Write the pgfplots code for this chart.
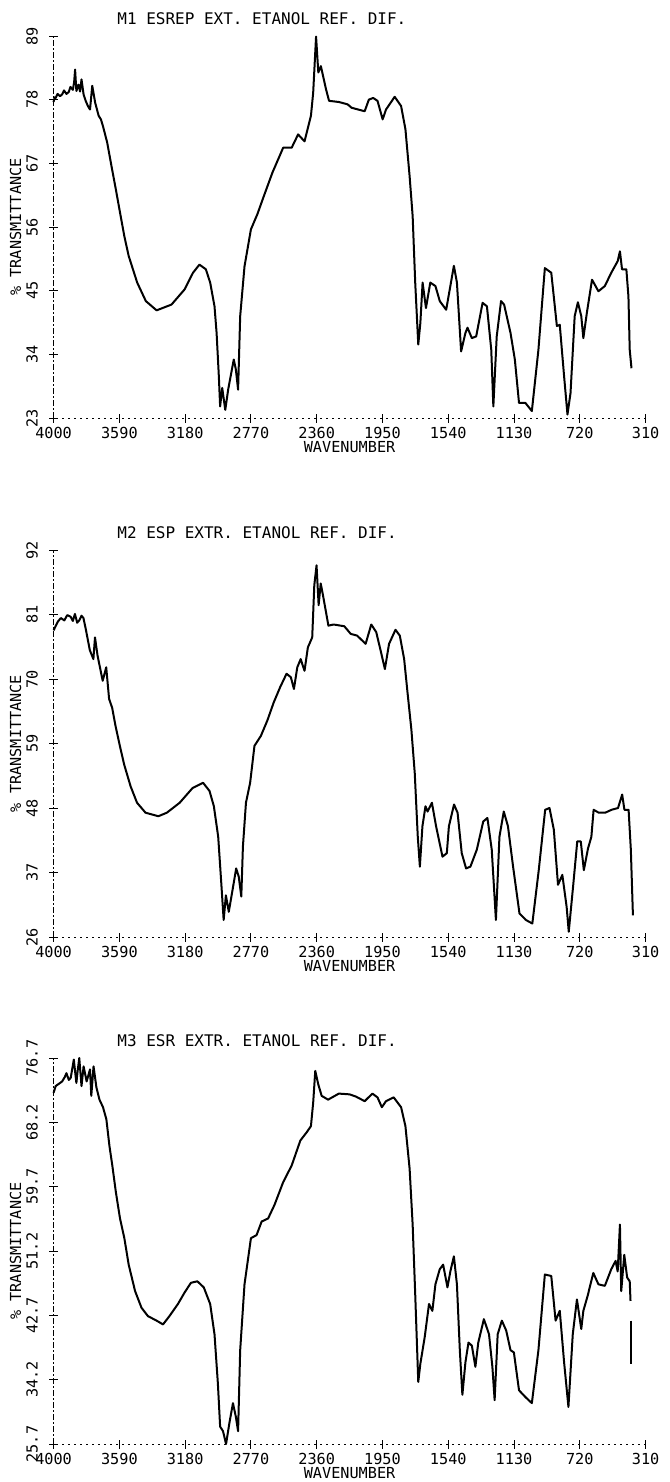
\documentclass[border=0pt]{standalone}
\usepackage{pgfplots}
\pgfplotsset{compat=1.18}
\usepackage{fontspec}
\setmainfont{DejaVu Sans Mono}

\pgfplotsset{
  ir/.style={
    scale only axis, width=296pt,
    xmin=310, xmax=4000, x dir=reverse,
    axis x line*=bottom, axis y line*=left,
    clip=false,
    xtick={4000,3590,3180,2770,2360,1950,1540,1130,720,310},
    xticklabels={4000,3590,3180,2770,2360,1950,1540,1130,720,310},
    tick align=center, major tick length=4.5pt,
    every tick/.style={black, line width=0.5pt},
    x axis line style={-, black, line width=0.5pt, dash pattern=on 0.6pt off 2.4pt},
    y axis line style={-, black, line width=0.5pt, dash pattern=on 3pt off 1.2pt on 0.6pt off 1.2pt},
    /pgf/number format/assume math mode=true,
    tick label style={font=\fontsize{7.6}{8}\selectfont},
    xticklabel style={anchor=center, yshift=-5pt},
    yticklabel style={rotate=90, anchor=center, yshift=8.5pt},
    label style={font=\fontsize{7.6}{8}\selectfont},
    xlabel={WAVENUMBER},
    xlabel style={at={(axis description cs:0.5,0)}, anchor=center, yshift=-14.5pt},
    ylabel={\% TRANSMITTANCE},
    ylabel style={at={(axis description cs:0,0.5)}, anchor=center, yshift=19pt},
    every axis title shift=0pt,
    title style={font=\fontsize{8}{9}\selectfont, at={(axis description cs:0,1)},
      anchor=west, inner sep=0pt, xshift=31.7pt, yshift=8.5pt},
  },
  spec/.style={black, line width=1pt, line join=round, mark=none},
}

\begin{document}
\begin{tikzpicture}
\useasboundingbox (0,0) rectangle (334.5pt,-741pt);

% M1
\begin{axis}[ir, at={(26.8pt,-209pt)}, anchor=south west, height=191pt,
  ymin=23, ymax=89, ytick={23,34,45,56,67,78,89},
  yticklabels={23,34,45,56,67,78,89},
  title={M1 ESREP EXT. ETANOL REF. DIF.}]
\addplot[spec] table {
4000 77.6
3993 78.4
3987 78.3
3975 79.0
3960 78.6
3947 78.9
3935 79.6
3920 79.0
3906 79.3
3895 80.2
3880 79.7
3872 81.0
3866 83.2
3858 79.5
3845 80.6
3835 79.4
3826 81.5
3813 78.9
3800 77.8
3786 76.9
3773 76.3
3759 80.4
3741 77.5
3719 75.2
3705 74.6
3692 73.4
3666 70.6
3639 66.5
3612 62.5
3586 58.5
3559 54.4
3532 51.0
3479 46.4
3425 43.2
3358 41.6
3265 42.6
3184 45.2
3131 48.1
3091 49.5
3051 48.7
3024 46.4
2997 42.3
2984 37.7
2970 30.2
2962 25.0
2949 28.2
2930 24.4
2912 27.9
2877 33.1
2864 31.4
2850 27.9
2837 40.6
2810 49.2
2770 55.6
2730 58.2
2690 61.3
2636 65.4
2569 69.7
2516 69.7
2476 72.0
2436 70.8
2396 75.2
2382 79.2
2364 88.9
2350 82.7
2334 83.8
2302 79.8
2283 77.8
2222 77.6
2168 77.2
2142 76.6
2061 76.0
2035 78.0
2008 78.3
1981 77.8
1949 74.6
1928 76.3
1874 78.5
1834 76.9
1807 72.9
1781 64.8
1762 57.9
1746 46.4
1727 35.7
1714 39.4
1700 46.4
1679 42.0
1652 46.4
1620 45.8
1593 43.2
1553 41.7
1527 45.8
1505 49.3
1486 46.4
1460 34.5
1433 37.7
1420 38.6
1393 36.8
1366 37.1
1326 42.9
1299 42.3
1272 34.8
1259 25.0
1238 37.1
1211 43.2
1192 42.6
1152 37.7
1125 33.1
1099 25.6
1059 25.6
1019 24.2
978 34.8
938 48.9
898 48.1
863 38.9
845 39.1
818 30.2
797 23.6
778 27.3
752 40.6
732 43.0
711 40.6
698 36.8
676 41.2
644 46.9
604 44.9
564 45.8
524 48.1
484 50.1
470 51.8
457 48.7
430 48.7
417 44.0
409 34.8
398 31.6
};
\end{axis}

% M2
\begin{axis}[ir, at={(26.8pt,-468.5pt)}, anchor=south west, height=193.5pt,
  ymin=26, ymax=92, ytick={26,37,48,59,70,81,92},
  yticklabels={26,37,48,59,70,81,92},
  title={M2 ESP EXTR. ETANOL REF. DIF.}]
\addplot[spec] table {
4000 78.3
3973 79.8
3955 80.4
3933 80.0
3915 80.9
3893 80.6
3880 79.9
3867 81.1
3853 79.6
3840 80.0
3826 80.8
3814 80.4
3800 78.6
3774 74.9
3752 73.4
3742 77.1
3726 74.0
3694 69.7
3672 72.0
3654 66.6
3635 65.1
3614 62.0
3587 58.6
3560 55.4
3520 51.7
3480 48.9
3427 47.2
3347 46.6
3294 47.2
3214 48.9
3134 51.4
3068 52.3
3028 50.9
3001 48.3
2974 43.1
2956 35.7
2940 28.9
2926 33.1
2908 30.3
2881 34.6
2862 37.7
2846 36.3
2830 32.9
2820 41.4
2801 48.9
2775 52.3
2748 58.6
2708 60.3
2668 62.9
2628 66.0
2588 68.6
2548 70.9
2521 70.3
2502 68.3
2481 72.0
2460 73.4
2436 71.4
2415 75.4
2388 77.1
2375 86.0
2361 89.4
2348 82.6
2335 86.3
2321 84.3
2287 79.1
2255 79.3
2188 79.0
2148 77.7
2108 77.4
2055 76.0
2020 79.3
1989 78.0
1962 74.9
1935 71.7
1909 76.0
1869 78.4
1842 77.4
1815 73.4
1794 67.7
1770 61.4
1749 54.0
1730 43.1
1717 38.0
1701 44.9
1682 48.3
1669 47.4
1642 48.9
1616 44.9
1576 39.7
1549 40.3
1536 44.9
1504 48.6
1482 47.2
1456 40.3
1429 37.7
1402 38.0
1362 40.9
1322 45.7
1296 46.3
1269 40.9
1243 28.9
1221 43.1
1194 47.4
1168 44.9
1136 38.0
1096 30.0
1056 28.9
1016 28.3
976 37.4
936 47.7
909 48.0
882 44.3
856 34.9
829 36.6
802 31.1
789 26.9
762 34.6
736 42.3
714 42.3
695 37.4
669 41.1
648 43.1
634 47.7
602 47.2
562 47.2
522 47.7
482 48.0
456 50.3
442 47.7
416 47.7
402 40.9
389 29.7
};
\end{axis}

% M3
\begin{axis}[ir, at={(26.8pt,-722pt)}, anchor=south west, height=193pt,
  ymin=25.7, ymax=76.7, ytick={25.7,34.2,42.7,51.2,59.7,68.2,76.7},
  yticklabels={25.7,34.2,42.7,51.2,59.7,68.2,76.7},
  title={M3 ESR EXTR. ETANOL REF. DIF.}]
\addplot[spec] table {
4000 72.1
3987 73.0
3960 73.4
3947 73.6
3930 74.2
3920 74.7
3905 73.8
3893 74.1
3874 76.5
3858 73.4
3850 75.0
3840 76.7
3826 73.0
3813 75.6
3794 73.6
3773 75.2
3765 71.7
3751 75.6
3733 72.8
3714 71.2
3692 70.2
3671 68.6
3652 65.1
3634 62.5
3612 59.0
3586 55.5
3559 52.9
3532 49.4
3492 45.9
3452 43.7
3412 42.6
3358 42.0
3318 41.5
3278 42.6
3225 44.2
3184 45.7
3144 47.0
3104 47.2
3064 46.4
3024 44.2
2997 40.2
2976 33.7
2962 28.0
2944 27.4
2925 25.7
2904 28.5
2882 31.1
2864 29.3
2850 27.4
2837 38.1
2810 46.8
2770 52.9
2735 53.3
2703 55.1
2663 55.5
2623 57.3
2569 60.3
2516 62.5
2462 65.8
2422 66.9
2396 67.7
2382 70.8
2369 75.0
2350 73.2
2329 71.7
2289 71.2
2222 72.0
2155 71.9
2115 71.6
2061 71.0
2013 72.0
1981 71.5
1954 70.2
1928 71.0
1880 71.5
1834 70.2
1807 67.7
1781 62.1
1762 54.7
1746 45.5
1727 33.9
1714 36.3
1687 39.8
1660 44.2
1639 43.3
1620 46.8
1593 48.8
1572 49.4
1545 46.4
1527 48.5
1505 50.5
1486 46.8
1468 38.1
1452 32.2
1433 36.5
1414 39.1
1393 38.7
1371 35.9
1353 39.1
1318 42.2
1286 40.2
1265 35.9
1251 31.5
1232 40.2
1206 42.0
1179 40.7
1152 38.1
1131 37.8
1099 32.8
1059 31.9
1019 31.1
978 38.1
938 48.1
898 47.9
871 42.0
845 43.3
818 36.5
791 30.6
764 40.2
738 44.8
711 40.9
698 43.3
671 45.3
636 48.3
604 46.8
564 46.6
524 48.8
497 49.9
484 48.5
470 54.7
462 45.9
443 50.7
425 47.7
409 47.2
404 44.6
};
\addplot[spec] table {
399 42.0
399 36.3
};
\end{axis}
\end{tikzpicture}
\end{document}
